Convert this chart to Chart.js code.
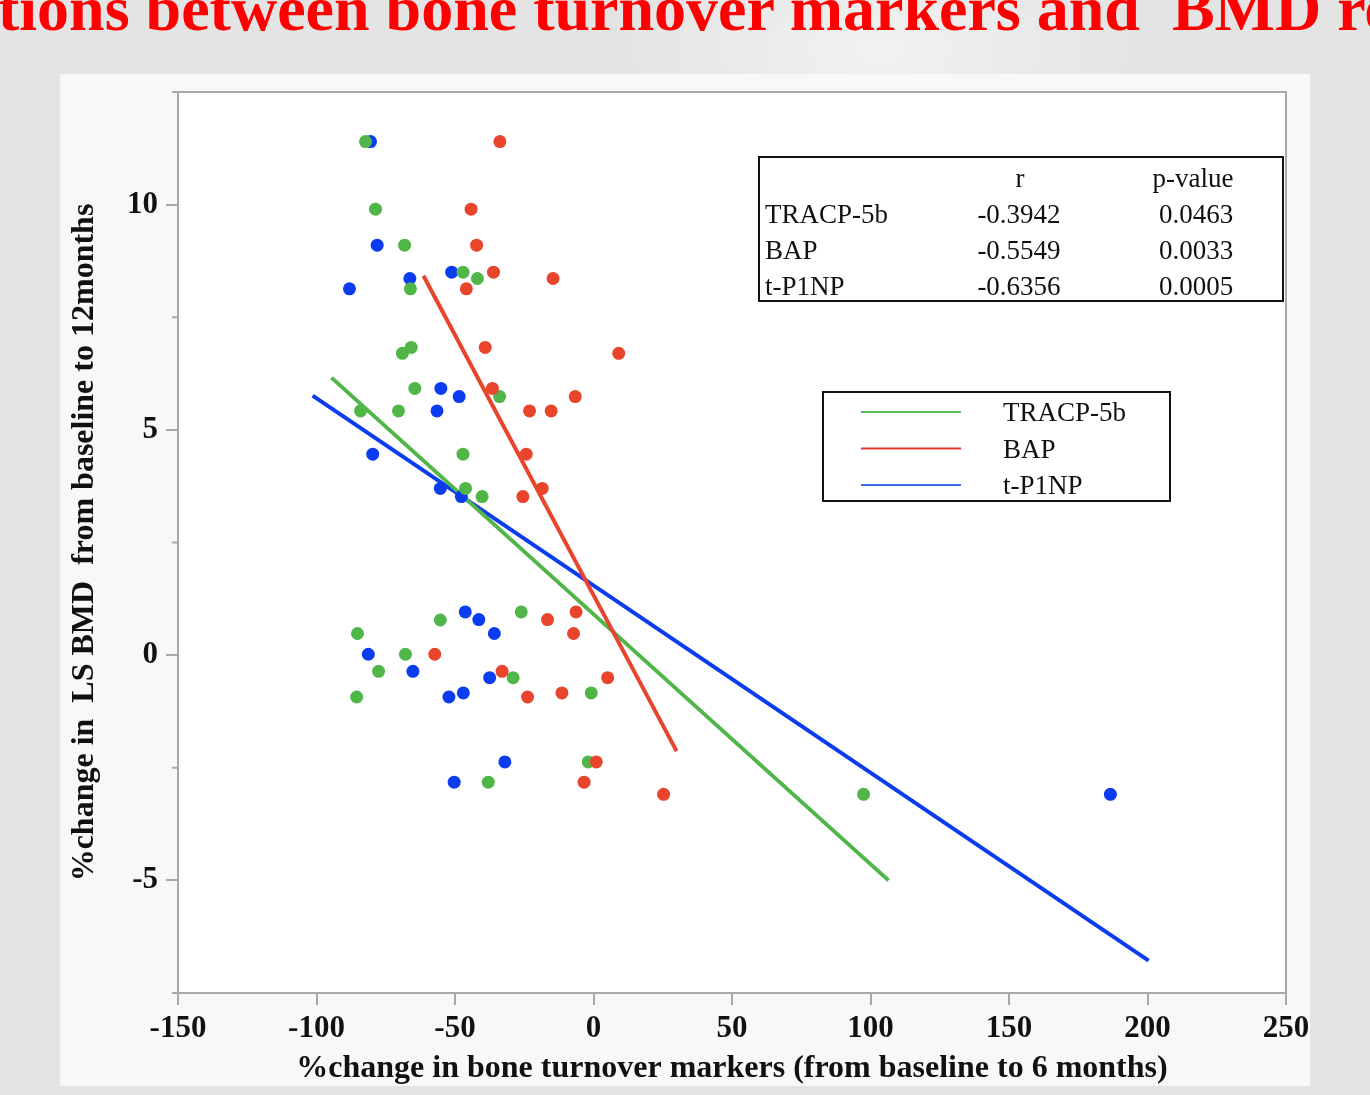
<!DOCTYPE html>
<html>
<head>
<meta charset="utf-8">
<script src="https://cdn.jsdelivr.net/npm/chart.js@4.4.1/dist/chart.umd.min.js"></script>
<style>
  html, body { margin: 0; padding: 0; }
  body {
    width: 1370px; height: 1095px; overflow: hidden; position: relative;
    background: radial-gradient(ellipse 260px 140px at 880px 50px, #f2f2f2 0%, #e4e4e4 100%), #e3e3e3;
  }
  #title {
    position: absolute; left: -2px; top: -23px; white-space: pre;
    font: bold 64px/1 "Liberation Serif", serif; color: #ff0000;
  }
  #panel {
    position: absolute; left: 60px; top: 74px; width: 1250px; height: 1012px;
    background: #f8f8f6;
  }
  canvas { position: absolute; left: 0; top: 0; }
</style>
</head>
<body>
<div id="title">tions between bone turnover markers and  BMD re</div>
<div id="panel"></div>
<canvas id="myChart" width="1370" height="1095"></canvas>
<script>
// %change in BMD (y) vs %change in each marker (x)
const tracpX = [-82.3, -78.7, -68.2, -47.1, -41.9, -66.1, -69.0, -65.8, -64.5, -33.9, -84.1, -70.4, -47.1,
  -46.2, -40.2, -55.3, -26.1, -85.2, -67.9, -77.6, -29.0, -85.5, -0.8, -1.9, -38.0, 97.5];
const tracpY = [11.4, 9.9, 9.1, 8.5, 8.36, 8.13, 6.7, 6.83, 5.92, 5.74, 5.42, 5.42, 4.46,
  3.7, 3.52, 0.78, 0.96, 0.48, 0.02, -0.36, -0.5, -0.93, -0.84, -2.37, -2.82, -3.09];

const bapX = [-33.8, -44.2, -42.2, -36.1, -14.6, -45.9, -39.1, 9.1, -36.5, -6.6, -23.1, -15.3, -24.3,
  -18.5, -25.5, -16.6, -6.3, -7.2, -57.3, -33.0, 5.1, -23.8, -11.4, 1.0, -3.4, 25.3];
const bapY = [11.4, 9.9, 9.1, 8.5, 8.36, 8.13, 6.83, 6.7, 5.92, 5.74, 5.42, 5.42, 4.46,
  3.7, 3.52, 0.79, 0.96, 0.48, 0.02, -0.36, -0.5, -0.93, -0.84, -2.37, -2.82, -3.09];

const p1npX = [-80.5, -78.1, -51.2, -66.3, -88.1, -55.1, -48.5, -56.5, -79.7, -55.3, -47.7,
  -46.3, -41.4, -35.8, -81.3, -65.2, -37.5, -52.2, -47.0, -32.0, -50.3, 186.6];
const p1npY = [11.4, 9.1, 8.5, 8.36, 8.13, 5.92, 5.74, 5.42, 4.46, 3.7, 3.52,
  0.96, 0.79, 0.48, 0.02, -0.36, -0.5, -0.93, -0.84, -2.37, -2.82, -3.09];

// regression line end points
const tracpFitX = [-94.6, 106.5];
const tracpFitY = [6.16, -5.0];
const bapFitX = [-61.4, 30.0];
const bapFitY = [8.42, -2.13];
const p1npFitX = [-101.4, 200.4];
const p1npFitY = [5.76, -6.78];

const markerNames = ["TRACP-5b", "BAP", "t-P1NP"];
const rValues = ["-0.3942", "-0.5549", "-0.6356"];
const pValues = ["0.0463", "0.0033", "0.0005"];

const xTicks = [-150, -100, -50, 0, 50, 100, 150, 200, 250];
const yTicks = [-5, 0, 5, 10];
const yMinorTicks = [-7.5, -2.5, 2.5, 7.5, 12.5];

const green = "#50b648";
const red = "#e8452c";
const blue = "#0b3cf0";
const axisGray = "#a9a9a9";
const serif = "Liberation Serif";

function toPoints(xs, ys) {
  return xs.map((x, i) => ({ x, y: ys[i] }));
}

function pointSet(label, xs, ys, color, order) {
  return {
    label,
    data: toPoints(xs, ys),
    backgroundColor: color,
    borderColor: color,
    borderWidth: 0,
    pointRadius: 6.5,
    showLine: false,
    order,
  };
}

function fitSet(label, xs, ys, color, order) {
  return {
    label,
    data: toPoints(xs, ys),
    borderColor: color,
    backgroundColor: color,
    borderWidth: 4,
    pointRadius: 0,
    showLine: true,
    fill: false,
    order,
  };
}

const plotBackground = {
  id: "plotBackground",
  beforeDraw(chart) {
    const { ctx, chartArea: a } = chart;
    ctx.save();
    ctx.fillStyle = "#ffffff";
    ctx.fillRect(a.left, a.top, a.right - a.left, a.bottom - a.top);
    ctx.restore();
  },
};

const frame = {
  id: "frame",
  beforeDatasetsDraw(chart) {
    const { ctx, chartArea: a, scales } = chart;
    ctx.save();
    ctx.strokeStyle = axisGray;
    ctx.lineWidth = 2;
    ctx.beginPath();
    ctx.moveTo(a.left, a.top);
    ctx.lineTo(a.right, a.top);
    ctx.lineTo(a.right, a.bottom);
    yMinorTicks.forEach((v) => {
      const py = scales.y.getPixelForValue(v);
      ctx.moveTo(a.left - 6, py);
      ctx.lineTo(a.left, py);
    });
    ctx.stroke();
    ctx.restore();
  },
};

const boxes = {
  id: "boxes",
  afterDraw(chart) {
    const { ctx, chartArea: a } = chart;
    ctx.save();
    ctx.font = `27px "${serif}"`;
    ctx.fillStyle = "#111";
    ctx.strokeStyle = "#111";
    ctx.lineWidth = 2;
    ctx.textBaseline = "middle";

    // stats table
    const tx = a.left + 581, ty = a.top + 65;
    ctx.strokeRect(tx, ty, 524, 144);
    ctx.textAlign = "center";
    ctx.fillText("r", tx + 261, ty + 23);
    ctx.fillText("p-value", tx + 434, ty + 23);
    markerNames.forEach((name, i) => {
      const ry = ty + 59 + i * 36;
      ctx.textAlign = "left";
      ctx.fillText(name, tx + 6, ry);
      ctx.textAlign = "center";
      ctx.fillText(rValues[i], tx + 260, ry);
      ctx.fillText(pValues[i], tx + 437, ry);
    });

    // legend
    const lx = a.left + 645, ly = a.top + 300;
    ctx.strokeRect(lx, ly, 347, 109);
    const legendColors = ["#5cb85c", "#e03a30", "#3a6ee8"];
    markerNames.forEach((name, i) => {
      const ry = ly + 21 + i * 36.5;
      ctx.strokeStyle = legendColors[i];
      ctx.lineWidth = 2;
      ctx.beginPath();
      ctx.moveTo(lx + 38, ry - 1);
      ctx.lineTo(lx + 138, ry - 1);
      ctx.stroke();
      ctx.textAlign = "left";
      ctx.fillText(name, lx + 180, ry + 1);
    });
    ctx.restore();
  },
};

const tickFont = { family: serif, size: 31, weight: "bold" };
const titleFont = { family: serif, size: 32, weight: "bold" };

window.onload = function () {
  const ctx = document.getElementById("myChart");
  window.chart = new Chart(ctx, {
    type: "scatter",
    data: {
      datasets: [
        pointSet("BAP", bapX, bapY, red, 1),
        pointSet("TRACP-5b", tracpX, tracpY, green, 2),
        pointSet("t-P1NP", p1npX, p1npY, blue, 3),
        fitSet("BAP fit", bapFitX, bapFitY, red, 4),
        fitSet("TRACP-5b fit", tracpFitX, tracpFitY, green, 5),
        fitSet("t-P1NP fit", p1npFitX, p1npFitY, blue, 6),
      ],
    },
    options: {
      responsive: false,
      animation: false,
      layout: { padding: { left: 60, right: 84, top: 92, bottom: 7 } },
      plugins: {
        legend: { display: false },
        tooltip: { enabled: false },
      },
      scales: {
        x: {
          type: "linear",
          min: -150,
          max: 250,
          afterBuildTicks: (s) => {
            s.ticks = xTicks.map((v) => ({ value: v }));
          },
          afterFit: (s) => {
            s.height = 95;
          },
          border: { display: true, color: axisGray, width: 2 },
          grid: { drawOnChartArea: false, drawTicks: true, tickLength: 12, color: axisGray, lineWidth: 2 },
          ticks: { font: tickFont, color: "#111", padding: 5, maxRotation: 0 },
          title: {
            display: true,
            text: "%change in bone turnover markers (from baseline to 6 months)",
            font: titleFont,
            color: "#111",
            padding: { top: 0, bottom: 0 },
          },
        },
        y: {
          type: "linear",
          min: -7.5,
          max: 12.5,
          afterBuildTicks: (s) => {
            s.ticks = yTicks.map((v) => ({ value: v }));
          },
          afterFit: (s) => {
            s.width = 118;
          },
          border: { display: true, color: axisGray, width: 2 },
          grid: { drawOnChartArea: false, drawTicks: true, tickLength: 12, color: axisGray, lineWidth: 2 },
          ticks: { font: tickFont, color: "#111", padding: 8 },
          title: {
            display: true,
            text: "%change in  LS BMD  from baseline to 12months",
            font: titleFont,
            color: "#111",
            padding: { top: 6, bottom: 0 },
          },
        },
      },
    },
    plugins: [plotBackground, frame, boxes],
  });
};
</script>
</body>
</html>
